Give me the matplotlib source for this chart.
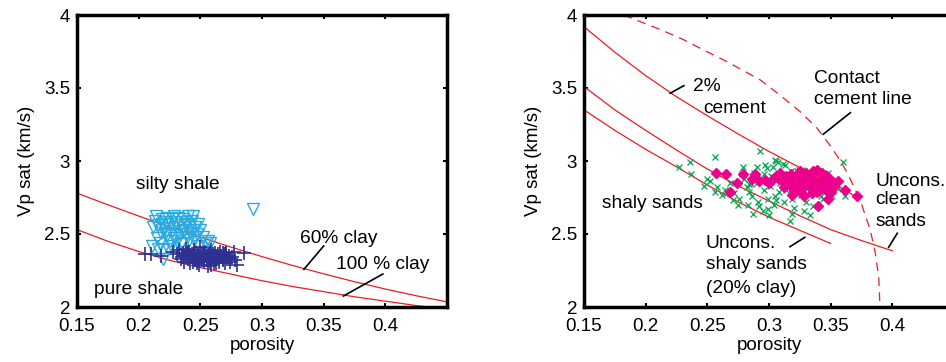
import matplotlib
matplotlib.use("Agg")
import matplotlib.pyplot as plt

plt.rcParams['font.family'] = ['Liberation Sans', 'DejaVu Sans']

# ---- left panel data (shales) ----
clay60_x = [0.15, 0.175, 0.20, 0.225, 0.25, 0.275, 0.30, 0.325, 0.35, 0.375, 0.40, 0.425, 0.45]
clay60_y = [2.78, 2.70, 2.623, 2.549, 2.478, 2.41, 2.345, 2.284, 2.227, 2.173, 2.123, 2.077, 2.035]
clay100_x = [0.15, 0.175, 0.20, 0.225, 0.25, 0.275, 0.30, 0.325, 0.35, 0.375, 0.40, 0.425, 0.45]
clay100_y = [2.53, 2.45, 2.38, 2.32, 2.27, 2.225, 2.18, 2.14, 2.105, 2.07, 2.04, 2.01, 1.985]

silty_x = [0.211, 0.213, 0.215, 0.216, 0.218, 0.219, 0.220, 0.221, 0.222, 0.223, 0.224, 0.225,
           0.226, 0.227, 0.228, 0.229, 0.230, 0.231, 0.232, 0.233, 0.234, 0.235, 0.236, 0.237,
           0.238, 0.239, 0.240, 0.241, 0.242, 0.243, 0.244, 0.245, 0.246, 0.247, 0.248, 0.249,
           0.250, 0.252, 0.254, 0.256, 0.212, 0.217, 0.221, 0.226, 0.231, 0.236, 0.241, 0.246,
           0.214, 0.219, 0.224, 0.229, 0.234, 0.239, 0.244, 0.220, 0.216, 0.258, 0.293]
silty_y = [2.42, 2.59, 2.47, 2.56, 2.51, 2.60, 2.33, 2.54, 2.58, 2.49, 2.61, 2.45,
           2.57, 2.52, 2.60, 2.47, 2.58, 2.55, 2.61, 2.50, 2.56, 2.44, 2.60, 2.53,
           2.58, 2.48, 2.62, 2.55, 2.51, 2.59, 2.62, 2.46, 2.55, 2.50, 2.57, 2.42,
           2.53, 2.48, 2.44, 2.45, 2.55, 2.44, 2.50, 2.42, 2.45, 2.52, 2.46, 2.48,
           2.62, 2.57, 2.40, 2.62, 2.43, 2.57, 2.53, 2.39, 2.40, 2.44, 2.67]

pure_x = [0.205, 0.210, 0.218, 0.228, 0.231, 0.233, 0.235, 0.236, 0.237, 0.238, 0.239, 0.240,
          0.241, 0.242, 0.243, 0.244, 0.245, 0.246, 0.247, 0.248, 0.249, 0.250, 0.251, 0.252,
          0.253, 0.254, 0.255, 0.256, 0.257, 0.258, 0.259, 0.260, 0.261, 0.262, 0.263, 0.264,
          0.265, 0.266, 0.267, 0.268, 0.269, 0.270, 0.271, 0.272, 0.273, 0.274, 0.276, 0.278,
          0.280, 0.285, 0.234, 0.238, 0.242, 0.246, 0.250, 0.254, 0.258, 0.262, 0.266, 0.270,
          0.240, 0.244, 0.248, 0.252, 0.256, 0.260, 0.264, 0.268, 0.245, 0.249, 0.253, 0.257,
          0.261, 0.265, 0.269, 0.273, 0.237, 0.247, 0.255, 0.263, 0.271, 0.277, 0.251, 0.259,
          0.243, 0.248, 0.253, 0.258, 0.263, 0.268, 0.239, 0.244, 0.250, 0.256, 0.262, 0.267]
pure_y = [2.36, 2.36, 2.35, 2.38, 2.36, 2.39, 2.34, 2.37, 2.31, 2.40, 2.35, 2.33,
          2.38, 2.30, 2.36, 2.34, 2.39, 2.32, 2.37, 2.35, 2.29, 2.41, 2.33, 2.36,
          2.31, 2.38, 2.34, 2.28, 2.36, 2.32, 2.39, 2.35, 2.30, 2.37, 2.33, 2.36,
          2.31, 2.38, 2.34, 2.32, 2.36, 2.30, 2.37, 2.33, 2.35, 2.31, 2.34, 2.32,
          2.29, 2.37, 2.33, 2.36, 2.34, 2.37, 2.32, 2.35, 2.37, 2.33, 2.35, 2.34,
          2.38, 2.31, 2.36, 2.34, 2.32, 2.36, 2.34, 2.37, 2.35, 2.33, 2.36, 2.34,
          2.35, 2.33, 2.36, 2.33, 2.35, 2.30, 2.32, 2.30, 2.37, 2.38, 2.37, 2.29,
          2.35, 2.32, 2.34, 2.31, 2.35, 2.33, 2.37, 2.36, 2.34, 2.36, 2.32, 2.35]

# ---- right panel data (sands) ----
contact_x = [0.182, 0.212, 0.231, 0.247, 0.266, 0.293, 0.309, 0.325, 0.339, 0.350, 0.358,
             0.364, 0.374, 0.382, 0.386, 0.389, 0.390]
contact_y = [4.00, 3.90, 3.83, 3.76, 3.68, 3.555, 3.45, 3.34, 3.225, 3.10, 3.00,
             2.91, 2.73, 2.53, 2.38, 2.20, 2.00]
cement2_x = [0.15, 0.175, 0.20, 0.225, 0.25, 0.275, 0.30, 0.325, 0.35, 0.372]
cement2_y = [3.92, 3.745, 3.585, 3.44, 3.31, 3.185, 3.065, 2.955, 2.855, 2.75]
clean_x = [0.15, 0.175, 0.20, 0.225, 0.25, 0.275, 0.30, 0.325, 0.35, 0.375, 0.40]
clean_y = [3.51, 3.35, 3.21, 3.075, 2.945, 2.83, 2.725, 2.625, 2.53, 2.455, 2.385]
shaly_x = [0.15, 0.175, 0.20, 0.225, 0.25, 0.275, 0.30, 0.325, 0.35]
shaly_y = [3.35, 3.21, 3.08, 2.96, 2.835, 2.72, 2.615, 2.525, 2.435]

green_x = [0.227, 0.236, 0.237, 0.256, 0.247, 0.250, 0.256, 0.264, 0.271, 0.279, 0.293, 0.287,
           0.290, 0.295, 0.300, 0.306, 0.311, 0.317, 0.319, 0.328, 0.333, 0.348, 0.360, 0.362,
           0.351, 0.252, 0.258, 0.262, 0.268, 0.272, 0.276, 0.280, 0.283, 0.285, 0.288, 0.291,
           0.294, 0.296, 0.298, 0.301, 0.303, 0.305, 0.307, 0.309, 0.312, 0.314, 0.316, 0.318,
           0.320, 0.322, 0.324, 0.326, 0.330, 0.335, 0.338, 0.341, 0.344, 0.346, 0.349, 0.353,
           0.356, 0.282, 0.286, 0.289, 0.292, 0.297, 0.302, 0.304, 0.308, 0.313, 0.315, 0.321,
           0.325, 0.331, 0.336, 0.342, 0.278, 0.284, 0.290, 0.299, 0.303, 0.310, 0.319, 0.327,
           0.296, 0.300, 0.305, 0.311, 0.306, 0.299, 0.284, 0.275, 0.266, 0.318, 0.323, 0.340]
green_y = [2.96, 2.99, 2.91, 3.03, 2.83, 2.88, 2.79, 2.80, 2.73, 2.96, 3.07, 2.64,
           2.96, 2.66, 2.63, 3.00, 2.98, 2.59, 2.64, 2.66, 2.63, 2.92, 2.99, 2.76,
           2.76, 2.86, 2.82, 2.77, 2.85, 2.78, 2.74, 2.88, 2.70, 2.84, 2.92, 2.72,
           2.86, 2.80, 2.95, 2.83, 2.89, 2.76, 2.99, 2.85, 2.72, 2.80, 2.87, 2.93,
           2.68, 2.83, 2.94, 2.77, 2.72, 2.85, 2.79, 2.90, 2.74, 2.82, 2.78, 2.86,
           2.81, 2.82, 2.76, 2.88, 2.69, 2.97, 2.90, 2.70, 2.79, 2.97, 2.84, 2.78,
           2.88, 2.81, 2.69, 2.76, 2.91, 2.79, 2.85, 2.74, 2.96, 2.88, 2.74, 2.94,
           2.91, 2.86, 3.01, 2.82, 2.73, 2.67, 2.84, 2.70, 2.78, 2.81, 2.93, 2.85]

pink_x = [0.257, 0.265, 0.274, 0.268, 0.279, 0.289, 0.297, 0.303, 0.309, 0.314, 0.321, 0.328,
          0.330, 0.336, 0.338, 0.340, 0.344, 0.348, 0.351, 0.356, 0.362, 0.371, 0.300, 0.306,
          0.311, 0.316, 0.318, 0.320, 0.323, 0.325, 0.327, 0.329, 0.332, 0.334, 0.335, 0.337,
          0.339, 0.342, 0.345, 0.347, 0.350, 0.353, 0.312, 0.317, 0.322, 0.326, 0.331, 0.333,
          0.341, 0.346, 0.308, 0.315, 0.324, 0.330, 0.339, 0.343, 0.286, 0.292, 0.319, 0.328]
pink_y = [2.92, 2.91, 2.85, 2.79, 2.91, 2.91, 2.87, 2.88, 2.92, 2.90, 2.89, 2.76,
          2.92, 2.93, 2.83, 2.69, 2.88, 2.74, 2.86, 2.86, 2.80, 2.76, 2.85, 2.90,
          2.86, 2.84, 2.91, 2.80, 2.87, 2.93, 2.82, 2.89, 2.85, 2.91, 2.78, 2.87,
          2.94, 2.81, 2.84, 2.90, 2.79, 2.83, 2.82, 2.88, 2.85, 2.79, 2.88, 2.82,
          2.86, 2.80, 2.88, 2.86, 2.83, 2.88, 2.79, 2.92, 2.88, 2.86, 2.77, 2.85]

RED = '#ed1c24'
FS = 13.8

fig = plt.figure(figsize=(9.46, 3.62), dpi=100)
ax1 = fig.add_axes([77 / 946, 55 / 362, 370 / 946, 292 / 362])
ax2 = fig.add_axes([584 / 946, 55 / 362, 370 / 946, 292 / 362])

for ax in (ax1, ax2):
    ax.set_xlim(0.15, 0.45)
    ax.set_ylim(2, 4)
    ax.set_xticks([0.15, 0.2, 0.25, 0.3, 0.35, 0.4])
    ax.set_xticklabels(['0.15', '0.2', '0.25', '0.3', '0.35', '0.4'])
    ax.set_yticks([2, 2.5, 3, 3.5, 4])
    ax.set_yticklabels(['2', '2.5', '3', '3.5', '4'])
    ax.tick_params(direction='in', top=True, right=True, length=3, width=1.5,
                   labelsize=13.5)
    ax.tick_params(axis='x', pad=8)
    ax.tick_params(axis='y', pad=5)
    for s in ax.spines.values():
        s.set_linewidth(2.5)
    ax.set_xlabel('porosity', fontsize=13.5, labelpad=1)
    ax.set_ylabel('Vp sat (km/s)', fontsize=13.5, labelpad=6)

# left panel
ax1.plot(clay60_x, clay60_y, color=RED, lw=0.9)
ax1.plot(clay100_x, clay100_y, color=RED, lw=0.9)
ax1.plot(silty_x, silty_y, linestyle='none', marker='v', ms=8.5, mfc='none',
         mec='#29abe2', mew=1.0)
ax1.plot(pure_x, pure_y, linestyle='none', marker='+', ms=9.5, mec='#2e3192', mew=1.2)

ax1.text(0.198, 2.836, 'silty shale', fontsize=FS, va='center')
ax1.text(0.1636, 2.123, 'pure shale', fontsize=FS, va='center')
ax1.text(0.331, 2.47, '60% clay', fontsize=FS, va='center')
ax1.text(0.360, 2.292, '100 % clay', fontsize=FS, va='center')
ax1.plot([0.350, 0.334], [2.418, 2.258], color='k', lw=1.2)
ax1.plot([0.398, 0.366], [2.226, 2.075], color='k', lw=1.2)

# right panel
ax2.plot(contact_x, contact_y, color=RED, lw=0.9, linestyle=(0, (7, 5)))
ax2.plot(cement2_x, cement2_y, color=RED, lw=0.9)
ax2.plot(clean_x, clean_y, color=RED, lw=0.9)
ax2.plot(shaly_x, shaly_y, color=RED, lw=0.9)
ax2.plot(green_x, green_y, linestyle='none', marker='x', ms=4, mec='#00a651', mew=0.9)
ax2.plot(pink_x, pink_y, linestyle='none', marker='D', ms=5.2, mfc='#ec008c',
         mec='#ec008c')

ax2.text(0.3367, 3.566, 'Contact', fontsize=FS, va='center')
ax2.text(0.3367, 3.418, 'cement line', fontsize=FS, va='center')
ax2.plot([0.366, 0.344], [3.331, 3.183], color='k', lw=1.2)
ax2.text(0.238, 3.509, '2%', fontsize=FS, va='center')
ax2.text(0.247, 3.361, 'cement', fontsize=FS, va='center')
ax2.plot([0.231, 0.2198], [3.516, 3.464], color='k', lw=1.2)
ax2.text(0.1649, 2.71, 'shaly sands', fontsize=FS, va='center')
ax2.text(0.2487, 2.436, 'Uncons.', fontsize=FS, va='center')
ax2.text(0.2487, 2.288, 'shaly sands', fontsize=FS, va='center')
ax2.text(0.2487, 2.128, '(20% clay)', fontsize=FS, va='center')
ax2.plot([0.317, 0.329], [2.413, 2.477], color='k', lw=1.2)
ax2.text(0.386, 2.858, 'Uncons.', fontsize=FS, va='center')
ax2.text(0.386, 2.733, 'clean', fontsize=FS, va='center')
ax2.text(0.386, 2.584, 'sands', fontsize=FS, va='center')
ax2.plot([0.404, 0.397], [2.505, 2.409], color='k', lw=1.2)

fig.savefig('out.png', dpi=100)
